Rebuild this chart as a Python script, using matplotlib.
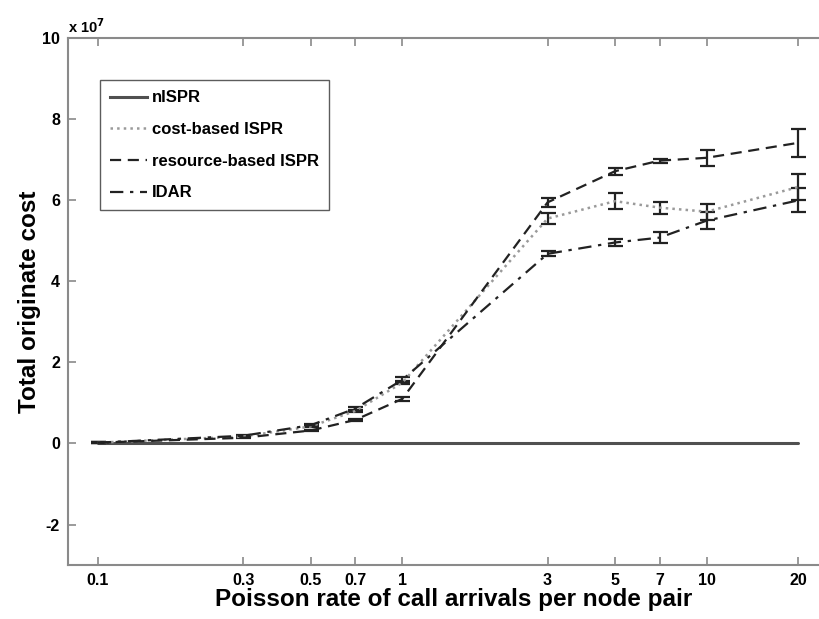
import numpy as np
import matplotlib
matplotlib.use('Agg')
import matplotlib.pyplot as plt
from matplotlib.lines import Line2D
from matplotlib.ticker import FixedLocator, FuncFormatter, NullLocator

plt.rcParams['font.family'] = ['Liberation Sans', 'DejaVu Sans']
plt.rcParams['font.weight'] = 'bold'

# call arrival rate per node pair
rates = [0.1, 0.3, 0.5, 0.7, 1, 3, 5, 7, 10, 20]

# total originate cost, in units of 1e7
nispr = [0, 0, 0, 0, 0, 0, 0, 0, 0, 0]
cost_ispr = [0.02, 0.17, 0.42, 0.80, 1.50, 5.55, 5.98, 5.82, 5.72, 6.33]
resource_ispr = [0.02, 0.14, 0.32, 0.58, 1.10, 5.95, 6.72, 6.98, 7.05, 7.42]
idar = [0.02, 0.19, 0.45, 0.86, 1.57, 4.68, 4.96, 5.08, 5.50, 6.00]

# error bar half-widths, in units of 1e7
cost_err = [0.005, 0.01, 0.02, 0.03, 0.04, 0.14, 0.20, 0.15, 0.20, 0.33]
resource_err = [0.005, 0.01, 0.02, 0.03, 0.04, 0.12, 0.09, 0.05, 0.20, 0.35]
idar_err = [0.005, 0.01, 0.02, 0.05, 0.08, 0.06, 0.08, 0.14, 0.20, 0.30]

labels = ['nISPR', 'cost-based ISPR', 'resource-based ISPR', 'IDAR']
scale = 1e7

fig = plt.figure(figsize=(8.2, 6.19), dpi=100)
ax = fig.add_axes([0.0833, 0.0872, 0.94, 0.851])

nispr_style = dict(color='#505050', lw=2.2)
cost_style = dict(color='#9a9a9a', ls=':', lw=1.8)
res_style = dict(color='#222222', ls=(0, (5, 3)), lw=1.6)
idar_style = dict(color='#222222', ls=(0, (6, 3, 1.5, 3)), lw=1.6)
err_kw = dict(ecolor='#222222', elinewidth=1.6, capsize=5.4, capthick=1.6)

ax.plot(rates, np.array(nispr) * scale, solid_capstyle='round', **nispr_style)
ax.errorbar(rates, np.array(cost_ispr) * scale, yerr=np.array(cost_err) * scale,
            **cost_style, **err_kw)
ax.errorbar(rates, np.array(resource_ispr) * scale, yerr=np.array(resource_err) * scale,
            **res_style, **err_kw)
ax.errorbar(rates, np.array(idar) * scale, yerr=np.array(idar_err) * scale,
            **idar_style, **err_kw)

ax.set_xscale('log')
ax.set_xlim(0.08, 27.2)
ax.set_ylim(-3e7, 10e7)

ax.xaxis.set_major_locator(FixedLocator(rates))
ax.xaxis.set_major_formatter(FuncFormatter(lambda v, p: f'{v:g}'))
ax.xaxis.set_minor_locator(NullLocator())
ax.yaxis.set_major_locator(FixedLocator(np.arange(-2, 11, 2) * scale))
ax.yaxis.set_major_formatter(FuncFormatter(lambda v, p: f'{v / scale:g}'))

for side in ['left', 'bottom', 'top', 'right']:
    ax.spines[side].set_color('#8a8a8a')
    ax.spines[side].set_linewidth(1.5)
ax.tick_params(which='both', direction='in', top=True, right=True,
               color='#8a8a8a', width=1.2, length=6, labelsize=11.5, pad=6)
for lab in ax.get_xticklabels() + ax.get_yticklabels():
    lab.set_fontweight('bold')

ax.text(0.0, 1.005, r'x 10$^{7}$', transform=ax.transAxes, fontsize=10.5,
        fontweight='bold', ha='left', va='bottom')

ax.set_xlabel('Poisson rate of call arrivals per node pair', fontsize=17.5,
              fontweight='bold', labelpad=0)
ax.set_ylabel('Total originate cost', fontsize=17.5, fontweight='bold', labelpad=1)

handles = [Line2D([], [], **s) for s in (nispr_style, cost_style, res_style, idar_style)]
leg = ax.legend(handles, labels, loc='upper left', bbox_to_anchor=(0.041, 0.92),
                fontsize=12, frameon=True, fancybox=False, edgecolor='#333333',
                handlelength=2.2, borderpad=0.6, labelspacing=1.0,
                borderaxespad=0, handletextpad=0.3)
leg.get_frame().set_linewidth(1.0)
for t in leg.get_texts():
    t.set_fontweight('bold')

fig.savefig('out.png', dpi=100)
